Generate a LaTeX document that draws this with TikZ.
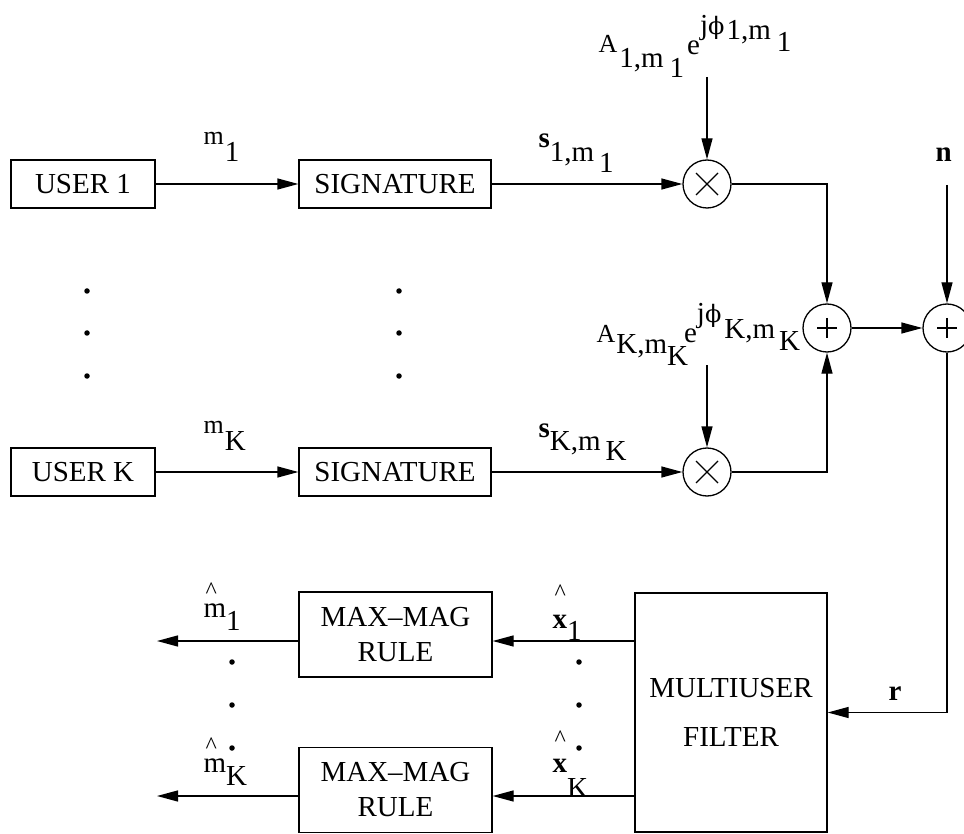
\documentclass[tikz,border=0pt]{standalone}
\usepackage{fontspec}
\setmainfont{Liberation Serif}
\newfontfamily\phifont{DejaVu Serif}
\usetikzlibrary{arrows.meta}
\newcommand{\boxfont}{\fontsize{29}{35}\selectfont}
\newcommand{\labfont}{\fontsize{29}{29}\selectfont}
\newcommand{\smfont}{\fontsize{26}{26}\selectfont}
\newcommand{\dn}[2]{\raisebox{-#1pt}{#2}}
\newcommand{\up}[2]{\raisebox{#1pt}{#2}}
\newcommand{\phase}{j{\phifont\fontsize{24}{24}\selectfont ϕ}}
\newcommand{\hatat}[1]{\makebox[0pt][l]{\hspace{2pt}\raisebox{#1pt}{\fontsize{24}{24}\selectfont\textasciicircum}}}

\begin{document}
\begin{tikzpicture}[x=1pt, y=-1pt, line width=1.3pt,
  box/.style={draw, inner sep=0pt, align=center, font=\boxfont},
  user/.style={box, minimum width=144pt, minimum height=48pt},
  sigbox/.style={box, minimum width=192pt, minimum height=48pt},
  rulebox/.style={box, minimum width=193pt, minimum height=85pt},
  filterbox/.style={box, minimum width=192pt, minimum height=239pt},
  mult/.style={circle, draw, minimum size=48pt, inner sep=0pt,
    path picture={\draw (path picture bounding box.center) +(-11,-11) -- +(11,11)
      (path picture bounding box.center) +(-11,11) -- +(11,-11);}},
  sum/.style={circle, draw, minimum size=48pt, inner sep=0pt,
    path picture={\draw (path picture bounding box.center) +(-10,0) -- +(10,0)
      (path picture bounding box.center) +(0,-10) -- +(0,10);}},
  lab/.style={inner sep=0pt, anchor=base west, font=\labfont},
  dot/.style={circle, fill, inner sep=0pt, minimum size=5.5pt},
  arrow/.style={-{Triangle[length=21pt, width=11pt]}}]
\useasboundingbox (0,0) rectangle (964,834);

% users and signatures
\node[user] (user1) at (83,184) {USER 1};
\node[sigbox] (sig1) at (395,184) {SIGNATURE};
\node[mult] (mult1) at (707,184) {};
\node[user] (userK) at (83,472) {USER K};
\node[sigbox] (sigK) at (395,472) {SIGNATURE};
\node[mult] (multK) at (707,472) {};
\node[sum] (sum1) at (827,328) {};
\node[sum] (sum2) at (947,328) {};

\foreach \y [count=\i] in {291,333,376} {
  \node[dot] (udot\i) at (87,\y) {};
  \node[dot] (sdot\i) at (399,\y) {};
}

\node[lab] (lm1) at (203,145) {{\smfont m}\hspace{1pt}\dn{17}{1}};
\node[lab] (lmK) at (203,433) {{\smfont m}\hspace{1pt}\dn{17}{K}};
\node[lab] (ls1) at (538,148) {\textbf{s}\dn{14}{1,m}\hspace{5pt}\dn{25}{1}};
\node[lab] (lsK) at (538,437) {\textbf{s}\dn{13}{K,m}\hspace{5pt}\dn{23}{K}};
\node[lab] (lA1) at (598,53) {{\smfont A}\hspace{2pt}\dn{15}{1,m}\hspace{6pt}\dn{25}{1}\hspace{3pt}\dn{2}{e}\up{18}{\phase}\hspace{2pt}\up{13}{1,m}\hspace{6pt}\up{1}{1}};
\node[lab] (lAK) at (596,342) {{\smfont A}\hspace{1pt}\dn{11}{K,m}\dn{23}{K}\hspace{-4pt}e\up{20}{\phase}\hspace{3pt}\up{4}{K,m}\hspace{4pt}\dn{8}{K}};
\node[lab, font=\boxfont\bfseries] (ln) at (935,162) {n};
\node[lab, font=\boxfont\bfseries] (lr) at (888,700) {r};

% gains, noise
\coordinate (gain1) at (707,77);
\coordinate (gainK) at (707,365);
\coordinate (noise) at (947,185);
\draw[arrow] (user1) -- (sig1);
\draw[arrow] (sig1) -- (mult1);
\draw[arrow] (gain1) -- (mult1);
\draw[arrow] (userK) -- (sigK);
\draw[arrow] (sigK) -- (multK);
\draw[arrow] (gainK) -- (multK);
\draw[arrow] (mult1) -| (sum1);
\draw[arrow] (multK) -| (sum1);
\draw[arrow] (sum1) -- (sum2);
\draw[arrow] (noise) -- (sum2);

% receiver
\node[filterbox] (filter) at (731,712.5) {MULTIUSER\\[14pt]FILTER};
\node[rulebox] (rule1) at (395.5,634.5) {MAX–MAG\\RULE};
\node[rulebox] (ruleK) at (395.5,790) {MAX–MAG\\RULE};
\draw[arrow] (sum2) |- (filter);
\coordinate (out1) at (157,641);
\coordinate (outK) at (157,796);
\draw[arrow] (filter.west |- out1) -- (rule1.east |- out1);
\draw[arrow] (filter.west |- outK) -- (ruleK.east |- outK);
\draw[arrow] (rule1.west |- out1) -- (out1);
\draw[arrow] (ruleK.west |- outK) -- (outK);

\foreach \y [count=\i] in {662,705,748} {
  \node[dot] (mdot\i) at (232,\y) {};
  \node[dot] (xdot\i) at (579,\y) {};
}

\node[lab] (lmh1) at (203,617) {\hatat{19}m\dn{13}{1}};
\node[lab] (lmhK) at (203,772) {\hatat{19}m\dn{13}{K}};
\node[lab] (lxh1) at (552,628) {\hatat{28}\textbf{x}\dn{12}{1}};
\node[lab] (lxhK) at (552,772) {\hatat{26}\textbf{x}\dn{25}{K}};
\end{tikzpicture}
\end{document}
